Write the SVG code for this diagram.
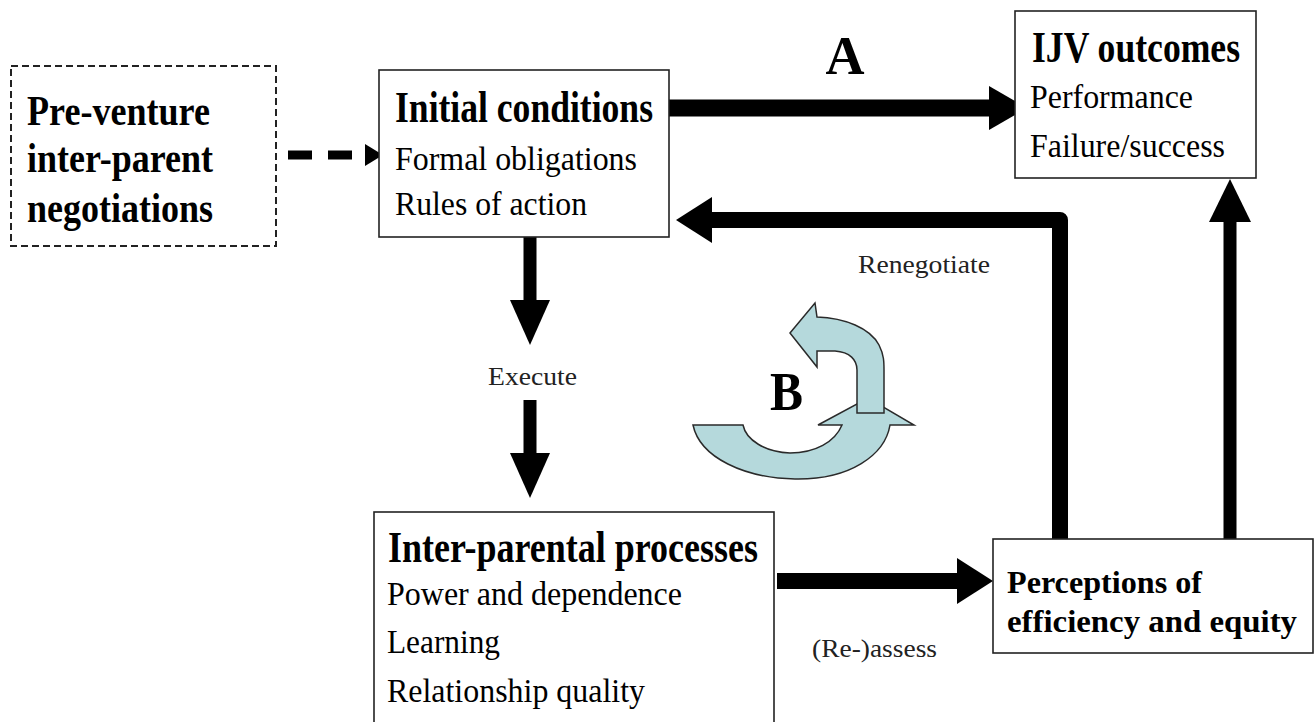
<svg xmlns="http://www.w3.org/2000/svg" width="1316" height="722" viewBox="0 0 1316 722">
<style>
.box{fill:#fff;stroke:#222;stroke-width:1.6}
.dbox{fill:#fff;stroke:#222;stroke-width:2;stroke-dasharray:7 4}
.t{font-family:"Liberation Serif","Times New Roman",serif;fill:#000}
.b{font-weight:bold}
.h{font-size:44px}
.r{font-size:33px}
.lbl{font-family:"Liberation Serif","Times New Roman",serif;font-size:26px;fill:#222}
.big{font-family:"Liberation Serif","Times New Roman",serif;font-size:54px;font-weight:bold;fill:#000}
.conn{stroke:#000;fill:none}
.head{fill:#000}
.cyc{fill:#b5d9dc;stroke:#2a2a2a;stroke-width:1.5;stroke-linejoin:miter}
</style>
<rect width="1316" height="722" fill="#fff"/>

<g id="connectors">
  <line class="conn" x1="288" y1="155" x2="366" y2="155" stroke-width="9" stroke-dasharray="24 16"/>
  <polygon class="head" points="365,144 383,155 365,166"/>
  <line class="conn" x1="665" y1="108" x2="991" y2="108" stroke-width="17"/>
  <polygon class="head" points="989,86 1027,108 989,130"/>
  <path class="conn" d="M1060,543 V220 H710" stroke-width="16" stroke-linejoin="round"/>
  <polygon class="head" points="712,197 676,220 712,243"/>
  <line class="conn" x1="1230" y1="539" x2="1230" y2="220" stroke-width="13"/>
  <polygon class="head" points="1209,222 1230,179 1251,222"/>
  <line class="conn" x1="530" y1="233" x2="530" y2="302" stroke-width="13"/>
  <polygon class="head" points="510,300 530,345 550,300"/>
  <line class="conn" x1="530" y1="400" x2="530" y2="455" stroke-width="13"/>
  <polygon class="head" points="510,453 530,498 550,453"/>
  <line class="conn" x1="777" y1="581" x2="959" y2="581" stroke-width="16"/>
  <polygon class="head" points="957,558 993,581 957,604"/>
</g>

<g id="labels">
  <text class="big" x="845" y="74" text-anchor="middle">A</text>
  <text class="lbl" x="858" y="273" textLength="132" lengthAdjust="spacingAndGlyphs">Renegotiate</text>
  <text class="lbl" x="488" y="385" textLength="89" lengthAdjust="spacingAndGlyphs">Execute</text>
  <text class="lbl" x="812" y="657" textLength="125" lengthAdjust="spacingAndGlyphs">(Re-)assess</text>
</g>

<g id="cycle-B">
  <path class="cyc" d="M693,425 L743,425 C746,440 765,452 790,453 C815,453 835,442 842,425 L818,425 L868,398 L914,425 L890,425 C885,455 850,480 795,479 C745,478 700,458 693,425 Z"/>
  <path class="cyc" d="M790,333 L815,303 L817,317 C845,318 870,328 879,345 C884,355 884,362 884,370 L884,413 L857,413 L857,370 C857,360 850,352 835,351 L817,351 L817,367 Z"/>
  <text class="big" x="770" y="410" textLength="33" lengthAdjust="spacingAndGlyphs">B</text>
</g>

<g id="node-preventure">
  <rect class="dbox" x="11" y="66" width="265" height="180"/>
  <text class="t b" font-size="43" x="27" y="125" textLength="183" lengthAdjust="spacingAndGlyphs">Pre-venture</text>
  <text class="t b" font-size="43" x="27" y="172" textLength="186" lengthAdjust="spacingAndGlyphs">inter-parent</text>
  <text class="t b" font-size="43" x="27" y="222" textLength="186" lengthAdjust="spacingAndGlyphs">negotiations</text>
</g>

<g id="node-initial">
  <rect class="box" x="379" y="70" width="290" height="167"/>
  <text class="t b h" x="395" y="122" textLength="258" lengthAdjust="spacingAndGlyphs">Initial conditions</text>
  <text class="t r" x="395" y="170" textLength="242" lengthAdjust="spacingAndGlyphs">Formal obligations</text>
  <text class="t r" x="395" y="215" textLength="192" lengthAdjust="spacingAndGlyphs">Rules of action</text>
</g>

<g id="node-outcomes">
  <rect class="box" x="1015" y="11" width="241" height="167"/>
  <text class="t b h" x="1032" y="62" textLength="208" lengthAdjust="spacingAndGlyphs">IJV outcomes</text>
  <text class="t r" x="1030" y="108" textLength="163" lengthAdjust="spacingAndGlyphs">Performance</text>
  <text class="t r" x="1030" y="157" textLength="195" lengthAdjust="spacingAndGlyphs">Failure/success</text>
</g>

<g id="node-processes">
  <rect class="box" x="374" y="512" width="400" height="220"/>
  <text class="t b h" x="388" y="562" textLength="370" lengthAdjust="spacingAndGlyphs">Inter-parental processes</text>
  <text class="t r" x="387" y="605" textLength="295" lengthAdjust="spacingAndGlyphs">Power and dependence</text>
  <text class="t r" x="387" y="653" textLength="113" lengthAdjust="spacingAndGlyphs">Learning</text>
  <text class="t r" x="387" y="702" textLength="258" lengthAdjust="spacingAndGlyphs">Relationship quality</text>
</g>

<g id="node-perceptions">
  <rect class="box" x="993" y="539" width="320" height="114"/>
  <text class="t b" font-size="31" x="1007" y="593" textLength="195" lengthAdjust="spacingAndGlyphs">Perceptions of</text>
  <text class="t b" font-size="31" x="1007" y="632" textLength="290" lengthAdjust="spacingAndGlyphs">efficiency and equity</text>
</g>
</svg>
